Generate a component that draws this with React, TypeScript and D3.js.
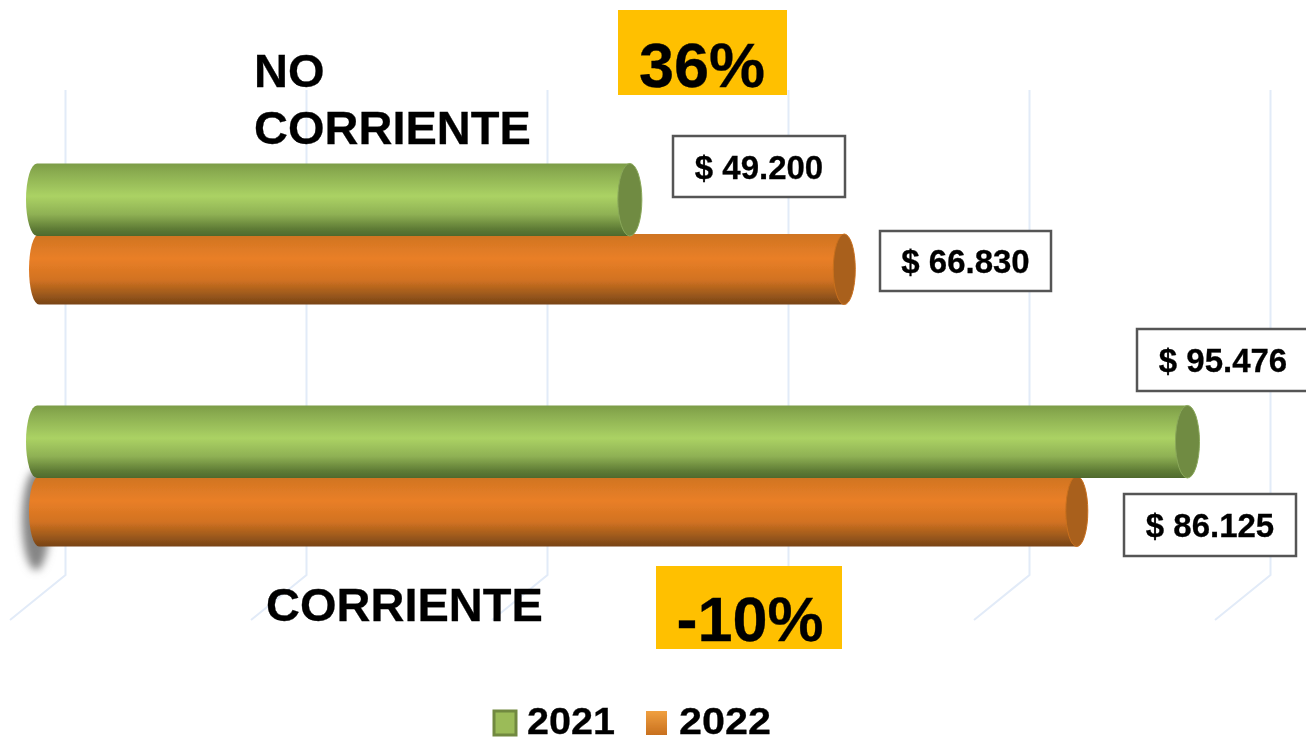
import React from 'react';
import * as d3 from 'd3';

const categories = ['NO CORRIENTE', 'CORRIENTE'];
const years = ['2021', '2022'];
const values2021 = [49200, 95476];
const values2022 = [66830, 86125];
const gridTicks = [0, 20000, 40000, 60000, 80000, 100000];
const changes = ['36%', '-10%'];

const width = 1306;
const height = 742;
const font = '"Liberation Sans", Arial, sans-serif';

const x = d3.scaleLinear().domain([0, 100000]).range([37, 1242]);
const y0 = d3.scaleBand().domain(categories).range([113, 597]).paddingInner(0.417).paddingOuter(0.2085);
const y1 = d3.scaleBand().domain(years).range([0, y0.bandwidth()]);
const money = d3.formatLocale({ decimal: ',', thousands: '.', grouping: [3], currency: ['$ ', ''] }).format('$,.0f');

const seriesValues = [values2021, values2022];
const seriesStyle = [
  { grad: 'cylGreen', cap: '#6f8b42', capEdge: '#8aa85a', rx: 12, shift: 0, extra: 2 },
  { grad: 'cylOrange', cap: '#a9601c', capEdge: '#c9701f', rx: 11, shift: 2, extra: 0 },
];
// label boxes sit where they were dragged by hand in the original
const boxes = [
  [{ x: 673, y: 136, w: 172, h: 61 }, { x: 1137, y: 329, w: 172, h: 62 }],
  [{ x: 880, y: 231, w: 171, h: 60 }, { x: 1124, y: 494, w: 172, h: 62 }],
];

function Cylinder({ value, band, s }: any) {
  const cx = x(value) + s.shift;
  const left = x(0) + s.shift;
  const top = band;
  const h = y1.bandwidth() + s.extra;
  const ry = h / 2;
  const body = `M${left},${top} L${cx},${top} L${cx},${top + h} L${left},${top + h} A${s.rx - 1},${ry} 0 0 1 ${left},${top} Z`;
  return (
    <g>
      <path d={body} fill={`url(#${s.grad})`} />
      <ellipse cx={cx} cy={top + ry} rx={s.rx} ry={ry} fill={s.cap} stroke={s.capEdge} strokeWidth={1} />
    </g>
  );
}

export default function App() {
  const gridTop = 90;
  const gridBottom = 575;
  // orange cylinders are drawn first, the green ones overlap them
  const order = [1, 0];
  const txt = { fontWeight: 'bold', fill: '#000', stroke: '#000', strokeWidth: 0.3 } as any;
  return (
    <svg width={width} height={height} style={{ position: 'absolute', left: 0, top: 0, background: '#fff' }} fontFamily={font}>
      <defs>
        <linearGradient id="cylGreen" x1="0" x2="0" y1="0" y2="1">
          <stop offset="0" stopColor="#7c9c47" />
          <stop offset="0.12" stopColor="#8aac50" />
          <stop offset="0.45" stopColor="#abd264" />
          <stop offset="0.7" stopColor="#8fb154" />
          <stop offset="0.9" stopColor="#5f7c36" />
          <stop offset="1" stopColor="#4f6a2d" />
        </linearGradient>
        <linearGradient id="cylOrange" x1="0" x2="0" y1="0" y2="1">
          <stop offset="0" stopColor="#cf7422" />
          <stop offset="0.35" stopColor="#e97f27" />
          <stop offset="0.65" stopColor="#d27221" />
          <stop offset="0.88" stopColor="#96561b" />
          <stop offset="1" stopColor="#774315" />
        </linearGradient>
        <linearGradient id="swatchOrange" x1="0" x2="0" y1="0" y2="1">
          <stop offset="0" stopColor="#f0a040" />
          <stop offset="1" stopColor="#c8701f" />
        </linearGradient>
        <filter id="soft" x="-5%" y="-5%" width="110%" height="110%">
          <feGaussianBlur stdDeviation="0.7" />
        </filter>
        <filter id="shadow" x="-100%" y="-50%" width="300%" height="200%">
          <feGaussianBlur stdDeviation="4" />
        </filter>
      </defs>

      <g filter="url(#soft)">
        {gridTicks.map(t => {
          const back = x(t) + 28.5;
          const front = x(t) - 27;
          return (
            <path
              key={t}
              d={`M${back},${gridTop} L${back},${gridBottom} L${front},${gridBottom + 45}`}
              fill="none"
              stroke="#e2ebf8"
              strokeWidth={2}
            />
          );
        })}

        <ellipse cx={x(0) - 1} cy={y0('CORRIENTE')! + y1('2022')! + 44} rx={14} ry={50} fill="#858585" filter="url(#shadow)" />

        {order.map(i =>
          categories.map(cat => (
            <Cylinder
              key={cat + years[i]}
              value={seriesValues[i][categories.indexOf(cat)]}
              band={y0(cat)! + y1(years[i])!}
              s={seriesStyle[i]}
            />
          ))
        )}

        {years.map((yr, i) =>
          categories.map((cat, c) => {
            const b = boxes[i][c];
            return (
              <g key={yr + cat}>
                <rect x={b.x} y={b.y} width={b.w} height={b.h} fill="#fff" stroke="#555" strokeWidth={2.5} />
                <text {...txt} x={b.x + b.w / 2} y={b.y + b.h / 2 + 12} textAnchor="middle" fontSize={33}>
                  {money(seriesValues[i][c])}
                </text>
              </g>
            );
          })
        )}

        <rect x={618} y={10} width={169} height={85} fill="#ffc000" />
        <text {...txt} x={702} y={87} textAnchor="middle" fontSize={63}>{changes[0]}</text>
        <rect x={656} y={566} width={186} height={83} fill="#ffc000" />
        <text {...txt} x={750} y={641} textAnchor="middle" fontSize={63}>{changes[1]}</text>

        <text {...txt} x={254} y={87} fontSize={47}>NO</text>
        <text {...txt} x={254} y={144} fontSize={47}>CORRIENTE</text>
        <text {...txt} x={266} y={621} fontSize={47}>{categories[1]}</text>

        <rect x={494} y={711} width={22} height={24} fill="#9bbb59" stroke="#71893f" strokeWidth={3} />
        <text {...txt} x={527} y={734} fontSize={37} textLength={88} lengthAdjust="spacingAndGlyphs">{years[0]}</text>
        <rect x={646} y={711} width={21} height={24} fill="url(#swatchOrange)" />
        <text {...txt} x={679} y={734} fontSize={37} textLength={92} lengthAdjust="spacingAndGlyphs">{years[1]}</text>
      </g>
    </svg>
  );
}
